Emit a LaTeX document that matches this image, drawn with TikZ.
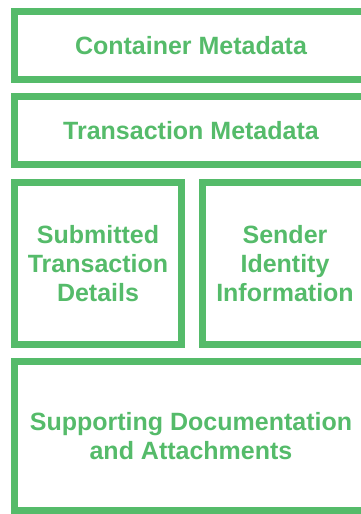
\documentclass[tikz,border=0pt]{standalone}
\usepackage{fontspec}
\setmainfont{Liberation Sans}
\definecolor{boxgreen}{RGB}{85,187,106}
\begin{document}
\begin{tikzpicture}[x=1pt, y=-1pt,
  part/.style={draw=boxgreen, line width=7pt, text=boxgreen, align=center,
    font=\bfseries\fontsize{25}{29}\selectfont, inner sep=0pt}]
  \useasboundingbox (0, 0) rectangle (361, 514);
  \node[part, minimum width=353pt, minimum height=68pt] (container) at (191, 45.5) {Container Metadata};
  \node[part, minimum width=353pt, minimum height=68pt] (transaction) at (191, 130.5) {Transaction Metadata};
  \node[part, minimum width=167pt, minimum height=162pt] (submitted) at (98, 263.5) {Submitted\\Transaction\\Details};
  \node[part, minimum width=165pt, minimum height=162pt] (sender) at (285, 263.5) {Sender\\Identity\\Information};
  \node[part, minimum width=353pt, minimum height=149pt] (supporting) at (191, 436) {Supporting Documentation\\and Attachments};
\end{tikzpicture}
\end{document}
